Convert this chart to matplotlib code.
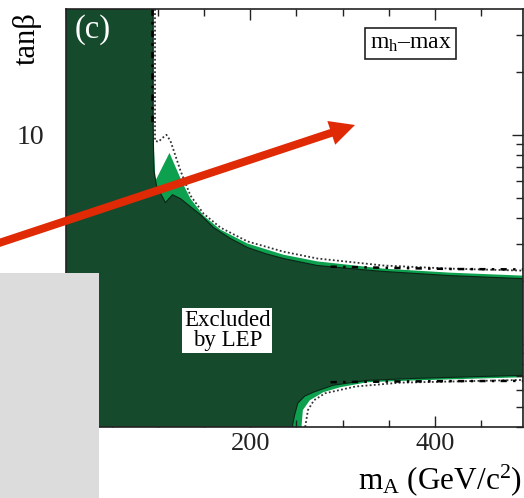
import matplotlib
matplotlib.use("Agg")
import matplotlib.pyplot as plt
from matplotlib.patches import FancyArrow, Rectangle
from matplotlib.ticker import FixedLocator, MultipleLocator, NullFormatter

# excluded region, upper edge (m_A in GeV, tan beta)
dark_hi_mA = [94.7, 94.7, 95.8, 98.5, 108.2, 115.8, 124.5, 135.3, 146.1, 160.2,
              178.6, 197.0, 216.5, 235.9, 272.7, 308.4, 344.2, 416.7, 495.7]
dark_hi_tb = [40, 11.66, 6.73, 5.71, 4.74, 5.17, 4.95, 4.53, 4.15, 3.60,
              3.19, 2.89, 2.70, 2.56, 2.37, 2.29, 2.22, 2.12, 2.05]
# excluded region, lower edge
dark_lo_mA = [245.5, 248.0, 251.5, 259.0, 268.4, 290.0, 326.8, 381.0, 495.7]
dark_lo_tb = [0.40, 0.456, 0.52, 0.562, 0.587, 0.634, 0.669, 0.684, 0.707]

# light band edges
lg_hi_mA = [95.8, 95.8, 97.4, 112.6, 119.0, 126.6, 135.3, 149.4, 167.7, 197.0,
            235.9, 272.7, 344.2, 416.7, 495.7]
lg_hi_tb = [40, 8.39, 6.03, 8.2, 7.04, 5.90, 4.95, 4.11, 3.52, 3.02,
            2.67, 2.48, 2.29, 2.19, 2.12]
lg_lo_mA = [255.5, 257.0, 264.5, 279.2, 297.6, 326.8, 381.0, 495.7]
lg_lo_tb = [0.40, 0.482, 0.537, 0.587, 0.62, 0.655, 0.669, 0.692]

# expected limit (dotted)
exp_hi_mA = [96.9, 96.9, 100.6, 105.0, 109.3, 113.6, 118.0, 124.5, 135.3, 149.4,
             167.7, 197.0, 235.9, 272.7, 344.2, 416.7, 495.7]
exp_hi_tb = [40, 9.36, 9.26, 9.67, 10.0, 9.36, 8.2, 6.73, 5.12, 4.2,
             3.6, 3.09, 2.76, 2.56, 2.37, 2.29, 2.24]
exp_lo_mA = [259.5, 262.5, 269.0, 281.0, 314.0, 362.6, 495.7]
exp_lo_tb = [0.40, 0.482, 0.537, 0.580, 0.625, 0.652, 0.672]

# theoretically inaccessible edges (dash-dot)
th_left_mA = [94.0, 94.0]
th_left_tb = [40, 11.5]
th_hi_mA = [287, 350, 420, 496]
th_hi_tb = [2.34, 2.31, 2.28, 2.27]
th_lo_mA = [287, 350, 420, 496]
th_lo_tb = [0.655, 0.66, 0.663, 0.665]

x_ticks = [0, 200, 400]
y_ticks = [1, 10]
y_minor = [0.4, 0.5, 0.6, 0.7, 0.8, 0.9, 2, 3, 4, 5, 6, 7, 8, 9, 20, 30]

DARK = "#154a2c"
LIGHT = "#0ca04f"
XMAX, YMIN, YMAX = 495, 0.4, 40

plt.rcParams["font.family"] = ["Liberation Serif", "DejaVu Serif"]
plt.rcParams["mathtext.fontset"] = "custom"
plt.rcParams["mathtext.rm"] = "Liberation Serif"
plt.rcParams["mathtext.it"] = "Liberation Serif:italic"

fig = plt.figure(figsize=(5.24, 4.98), dpi=100)
ax = fig.add_axes([65.5 / 524, 71 / 498, 457.2 / 524, 418 / 498])
ax.set_yscale("log")
ax.set_xlim(0, XMAX)
ax.set_ylim(YMIN, YMAX)
ax.set_facecolor(LIGHT)

# white (allowed) regions outside the light band
ax.fill(lg_hi_mA + [XMAX, XMAX], lg_hi_tb + [lg_hi_tb[-1], YMAX], color="white", lw=0, zorder=1)
ax.fill(lg_lo_mA + [XMAX, XMAX], lg_lo_tb + [lg_lo_tb[-1], YMIN], color="white", lw=0, zorder=1)

# dark excluded region
px = [0, 0] + dark_hi_mA + [XMAX] + dark_lo_mA[::-1]
py = [YMIN, YMAX] + dark_hi_tb + [dark_lo_tb[-1]] + dark_lo_tb[::-1]
ax.fill(px, py, color=DARK, lw=0, zorder=2)
ax.plot(dark_hi_mA, dark_hi_tb, color="#0b2516", lw=0.8, zorder=3)
ax.plot(dark_lo_mA, dark_lo_tb, color="#0b2516", lw=0.8, zorder=3)

ax.plot(exp_hi_mA, exp_hi_tb, color="#333333", lw=1.3, ls=(0, (1, 1.3)), zorder=4)
ax.plot(exp_lo_mA, exp_lo_tb, color="#333333", lw=1.3, ls=(0, (1, 1.3)), zorder=4)
for xs, ys in [(th_left_mA, th_left_tb), (th_hi_mA, th_hi_tb), (th_lo_mA, th_lo_tb)]:
    ax.plot(xs, ys, color="black", lw=1.8, ls=(0, (2.5, 2.5, 1, 2.5)), zorder=4)

ax.xaxis.set_major_locator(FixedLocator(x_ticks))
ax.xaxis.set_minor_locator(MultipleLocator(50))
ax.yaxis.set_major_locator(FixedLocator(y_ticks))
ax.yaxis.set_minor_locator(FixedLocator(y_minor))
ax.yaxis.set_minor_formatter(NullFormatter())
ax.set_yticklabels(["1", "10"])
ax.tick_params(which="both", direction="in", top=True, right=True, width=1, colors="#222222")
ax.tick_params(which="major", length=8)
ax.tick_params(which="minor", length=5)
ax.tick_params(axis="y", labelsize=20, pad=15)
ax.tick_params(axis="x", labelsize=19, pad=4)
for s in ax.spines.values():
    s.set_linewidth(1.2)
    s.set_color("#222222")
    s.set_zorder(6)

ax.text(0.02, 0.95, "(c)", transform=ax.transAxes, color="white", fontsize=23.5,
        ha="left", va="center", zorder=7)
ax.text(0.755, 0.917, "m$_\\mathrm{h}$\u2013max", transform=ax.transAxes, fontsize=17,
        ha="center", va="center", zorder=7,
        bbox=dict(boxstyle="square,pad=0.2", fc="white", ec="#222222", lw=1.2))
ax.text(0.354, 0.23, "Excluded\nby LEP", transform=ax.transAxes, fontsize=16.5,
        ha="center", va="center", linespacing=0.95, zorder=7,
        bbox=dict(boxstyle="square,pad=0.08", fc="white", ec="none"))

fig.text(27 / 524, 1 - 39 / 498, "tan\u03b2", rotation=90, fontsize=22, ha="center", va="center")
fig.text(522 / 524, 1 - 480 / 498, "$\\mathrm{m_A}$ (GeV/c$^2$)", fontsize=22.5,
         ha="right", va="center")

# overlay: grey box and red arrow (pixel coordinates)
px_tr = fig.dpi_scale_trans
fig.add_artist(Rectangle((0, 0), 99 / 100, 225 / 100, transform=px_tr,
                         fc="#dcdcdc", ec="none", zorder=10))
fig.add_artist(FancyArrow(-10 / 100, 252 / 100, 365 / 100, 121 / 100, width=8 / 100,
                          head_width=25 / 100, head_length=25 / 100,
                          length_includes_head=True, transform=px_tr,
                          fc="#e02a05", ec="none", zorder=11))

fig.savefig("out.png", dpi=100)
